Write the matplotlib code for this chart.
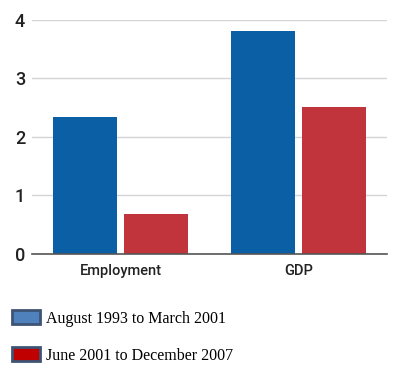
import matplotlib.pyplot as plt
import numpy as np
from matplotlib.patches import Patch

categories = ["Employment", "GDP"]
series_names = ["August 1993 to March 2001", "June 2001 to December 2007"]
period1 = [2.34, 3.81]
period2 = [0.68, 2.51]
yticks = [0, 1, 2, 3, 4]

bar_colors = ["#0b5fa5", "#c1343c"]
legend_colors = ["#4f81bd", "#c00000"]
tick_font = "Roboto"

fig = plt.figure(figsize=(4.17, 3.75), dpi=100)
ax = fig.add_axes([0.077, 0.323, 0.851, 0.624])

x = np.arange(len(categories))
w = 0.36
ax.bar(x - 0.2, period1, w, color=bar_colors[0], zorder=3)
ax.bar(x + 0.2, period2, w, color=bar_colors[1], zorder=3)

ax.set_xlim(-0.5, 1.5)
ax.set_ylim(0, 4)
ax.set_yticks(yticks)
ax.set_yticklabels([str(t) for t in yticks], fontsize=13, family=tick_font,
                   weight="medium", color="#222222")
ax.set_xticks(x)
ax.set_xticklabels(categories, fontsize=10.5, family=tick_font, weight="medium",
                   color="#222222")
ax.tick_params(axis="x", length=0, pad=7)
ax.tick_params(axis="y", length=0, pad=5)
ax.yaxis.grid(True, color="#d4d4d8", linewidth=1, zorder=0)
for s in ["top", "right", "left"]:
    ax.spines[s].set_visible(False)
ax.spines["bottom"].set_color("#555555")
ax.spines["bottom"].set_linewidth(1.2)
ax.spines["bottom"].set_zorder(4)

handles = [Patch(facecolor=c, edgecolor="#3e5474", linewidth=2) for c in legend_colors]
fig.legend(handles, series_names, loc="upper left", bbox_to_anchor=(0.013, 0.19),
           frameon=False, prop={"family": "Liberation Serif", "size": 11.5},
           handlelength=1.75, handleheight=0.95, handletextpad=0.4, labelspacing=1.3,
           borderaxespad=0)

fig.savefig("out.png", dpi=100)
